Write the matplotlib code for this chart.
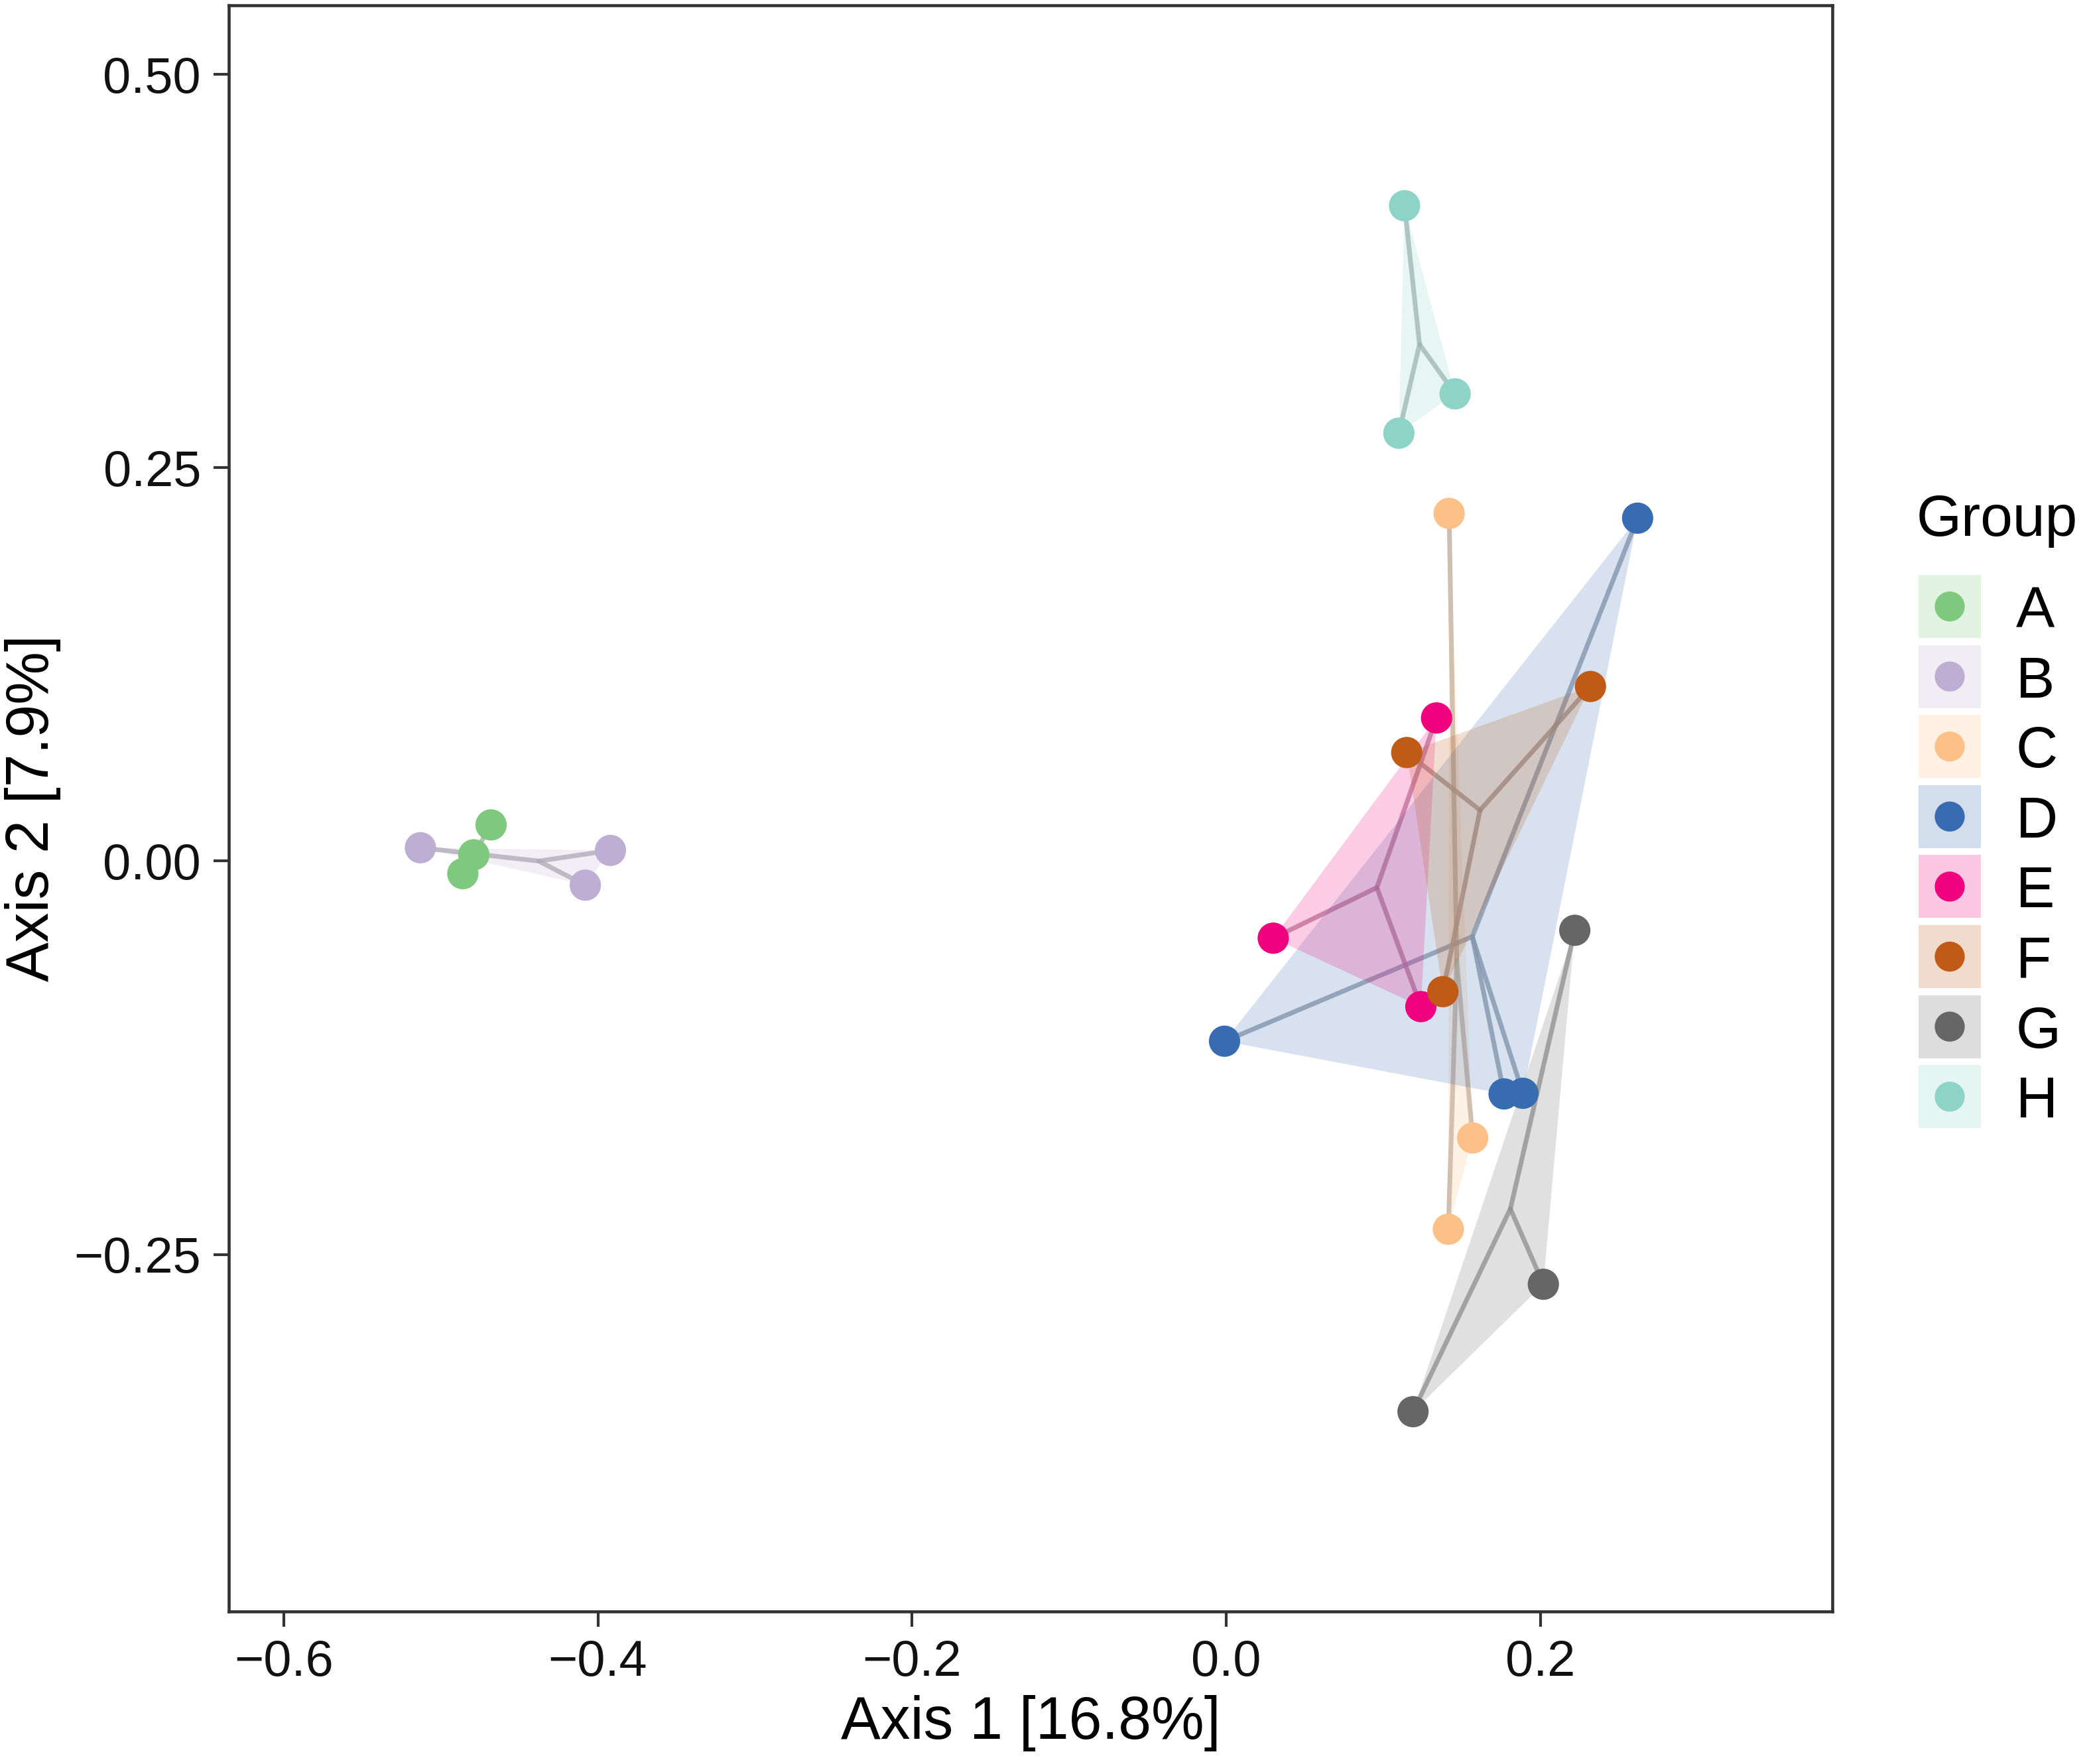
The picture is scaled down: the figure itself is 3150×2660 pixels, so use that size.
import numpy as np
import matplotlib
matplotlib.use("Agg")
import matplotlib.pyplot as plt
from matplotlib.patches import Rectangle, Polygon
from matplotlib.colors import to_rgb

plt.rcParams['font.family'] = ['Liberation Sans', 'DejaVu Sans']

groups = ['A', 'B', 'C', 'D', 'E', 'F', 'G', 'H']
colors = ['#7FC97F', '#BEAED4', '#FDC086', '#386CB0', '#F0027F', '#BF5B17', '#666666', '#8DD3C7']

A_x = [-0.468, -0.479, -0.486]
A_y = [0.023, 0.004, -0.008]
B_x = [-0.513, -0.392, -0.408]
B_y = [0.0085, 0.0068, -0.0153]
C_x = [0.142, 0.157, 0.1415]
C_y = [0.221, -0.176, -0.234]
D_x = [0.262, -0.001, 0.177, 0.189]
D_y = [0.218, -0.1145, -0.148, -0.1476]
E_x = [0.134, 0.030, 0.124]
E_y = [0.091, -0.049, -0.0925]
F_x = [0.115, 0.232, 0.138]
F_y = [0.069, 0.111, -0.083]
G_x = [0.222, 0.202, 0.119]
G_y = [-0.044, -0.269, -0.350]
H_x = [0.1136, 0.1458, 0.110]
H_y = [0.4166, 0.297, 0.272]

xs = [A_x, B_x, C_x, D_x, E_x, F_x, G_x, H_x]
ys = [A_y, B_y, C_y, D_y, E_y, F_y, G_y, H_y]

x_ticks = [-0.6, -0.4, -0.2, 0.0, 0.2]
y_ticks = [-0.25, 0.00, 0.25, 0.50]
x_label = 'Axis 1 [16.8%]'
y_label = 'Axis 2 [7.9%]'


def convex_hull(pts):
    pts = sorted(set(pts))
    if len(pts) <= 2:
        return pts
    def cross(o, a, b):
        return (a[0]-o[0])*(b[1]-o[1]) - (a[1]-o[1])*(b[0]-o[0])
    lower = []
    for p in pts:
        while len(lower) >= 2 and cross(lower[-2], lower[-1], p) <= 0:
            lower.pop()
        lower.append(p)
    upper = []
    for p in reversed(pts):
        while len(upper) >= 2 and cross(upper[-2], upper[-1], p) <= 0:
            upper.pop()
        upper.append(p)
    return lower[:-1] + upper[:-1]


W, H = 3150, 2660
DPI = 300
fig = plt.figure(figsize=(W / DPI, H / DPI), dpi=DPI)
ax_l, ax_r, ax_t, ax_b = 345, 2763, 8, 2430
ax = fig.add_axes([ax_l / W, 1 - ax_b / H, (ax_r - ax_l) / W, (ax_b - ax_t) / H])

gray = np.array(to_rgb('#acacac'))
for gx, gy, c in zip(xs, ys, colors):
    cx, cy = np.mean(gx), np.mean(gy)
    lc = 0.82 * gray + 0.18 * np.array(to_rgb(c))
    for px, py in zip(gx, gy):
        ax.plot([cx, px], [cy, py], color=lc, lw=1.7, alpha=0.8,
                solid_capstyle='round', zorder=1)

for gx, gy, c in zip(xs, ys, colors):
    hull = convex_hull(list(zip(gx, gy)))
    ax.add_patch(Polygon(hull, closed=True, facecolor=c, edgecolor='none',
                         alpha=0.2, zorder=2))

for gx, gy, c in zip(xs, ys, colors):
    ax.scatter(gx, gy, s=128, color=c, edgecolors='none', zorder=3)

ax.set_xlim(-0.635, 0.386)
ax.set_ylim(-0.477, 0.544)
ax.set_xticks(x_ticks)
ax.set_xticklabels(['\u22120.6', '\u22120.4', '\u22120.2', '0.0', '0.2'])
ax.set_yticks(y_ticks)
ax.set_yticklabels(['\u22120.25', '0.00', '0.25', '0.50'])
ax.tick_params(direction='out', length=5.5, width=1.0, color='#333333',
               labelsize=18.2, labelcolor='#111111', pad=4.6)
for s in ax.spines.values():
    s.set_color('#333333')
    s.set_linewidth(1.1)

ax.set_xlabel(x_label, fontsize=21.5)
ax.set_ylabel(y_label, fontsize=21.5)
ax.xaxis.set_label_coords(0.5, -(2556 - ax_b) / (ax_b - ax_t))
ax.yaxis.set_label_coords((92 - ax_l) / (ax_r - ax_l), 0.5)

# legend drawn in pixel coordinates
lax = fig.add_axes([0, 0, 1, 1], facecolor='none')
lax.set_xlim(0, W)
lax.set_ylim(H, 0)
lax.axis('off')
lax.text(2890, 808, 'Group', fontsize=21, ha='left', va='baseline')
for i, (g, c) in enumerate(zip(groups, colors)):
    top = 867 + 105.6 * i
    lax.add_patch(Rectangle((2893, top), 94, 95, facecolor=c, edgecolor='none', alpha=0.22))
    cy = top + 47.5
    lax.scatter([2940], [cy], s=118, color=c, edgecolors='none')
    lax.text(3040, cy + 31.5, g, fontsize=21, ha='left', va='baseline')

fig.savefig('out.png', dpi=DPI)
